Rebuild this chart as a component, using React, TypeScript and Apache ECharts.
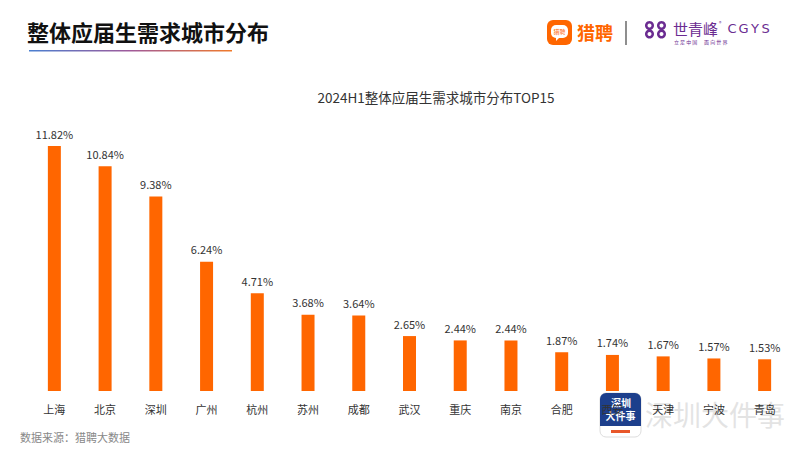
import React, { useEffect, useRef } from "react";
import * as echarts from "echarts";

const cities = ["上海", "北京", "深圳", "广州", "杭州", "苏州", "成都", "武汉", "重庆", "南京", "合肥", "西安", "天津", "宁波", "青岛"];
const shares = [11.82, 10.84, 9.38, 6.24, 4.71, 3.68, 3.64, 2.65, 2.44, 2.44, 1.87, 1.74, 1.67, 1.57, 1.53];

const pageTitle = "整体应届生需求城市分布";
const chartTitle = "2024H1整体应届生需求城市分布TOP15";
const sourceText = "数据来源：猎聘大数据";

const FONT = "'Noto Sans CJK SC', 'Noto Sans', sans-serif";

export default function App() {
  const ref = useRef<HTMLDivElement>(null);
  useEffect(() => {
    document.body.style.margin = "0";
    if (!ref.current) return;
    const chart = echarts.init(ref.current, undefined, { renderer: "svg" });
    const orange = "#FF6600";
    const purple = "#6B2C91";
    const cgys = ["C", "G", "Y", "S"];
    const cgysX = [732, 743.5, 755, 765.5];
    chart.setOption({
      animation: false,
      backgroundColor: "#ffffff",
      textStyle: { fontFamily: FONT },
      title: {
        text: chartTitle,
        left: 431,
        textAlign: "center",
        top: 85,
        textStyle: { fontSize: 13.5, fontWeight: "normal", color: "#333", fontFamily: FONT },
      },
      grid: { left: 29, right: 10, top: 146, bottom: 59, containLabel: false },
      xAxis: {
        type: "category",
        data: cities,
        axisLine: { show: false },
        axisTick: { show: false },
        axisLabel: { color: "#333", fontSize: 11, margin: 12, fontFamily: FONT },
      },
      yAxis: {
        type: "value",
        min: 0,
        max: 11.82,
        show: false,
        splitLine: { show: false },
      },
      series: [
        {
          type: "bar",
          data: shares,
          barWidth: 13,
          itemStyle: { color: orange },
          label: {
            show: true,
            position: "top",
            distance: 7,
            color: "#333",
            fontSize: 11,
            fontFamily: FONT,
            formatter: (p: any) => p.value.toFixed(2) + "%",
          },
        },
      ],
      graphic: [
        {
          type: "text",
          x: 27,
          y: 31,
          style: { text: pageTitle, fill: "#111", font: `bold 22px ${FONT}`, verticalAlign: "middle" },
        },
        {
          type: "rect",
          shape: { x: 29, y: 50, width: 203, height: 1.5 },
          style: {
            fill: new echarts.graphic.LinearGradient(0, 0, 1, 0, [
              { offset: 0, color: "#4A7FD0" },
              { offset: 0.5, color: "#A05A9A" },
              { offset: 1, color: "#F07A2A" },
            ]),
          },
        },
        // 猎聘 logo
        {
          type: "rect",
          shape: { x: 547, y: 20, width: 25, height: 25, r: 6 },
          style: { fill: orange },
        },
        {
          type: "rect",
          shape: { x: 551, y: 25, width: 17, height: 13, r: 5 },
          style: { fill: "#fff" },
        },
        {
          type: "polygon",
          shape: { points: [[556, 37], [560, 37], [556, 41]] },
          style: { fill: "#fff" },
        },
        {
          type: "text",
          x: 559.5,
          y: 31.5,
          style: { text: "猎聘", fill: orange, font: `6px ${FONT}`, align: "center", verticalAlign: "middle" },
        },
        {
          type: "text",
          x: 577,
          y: 32,
          style: { text: "猎聘", fill: orange, font: `bold 18px ${FONT}`, verticalAlign: "middle" },
        },
        {
          type: "line",
          shape: { x1: 626, y1: 21, x2: 626, y2: 45 },
          style: { stroke: "#444", lineWidth: 1.2 },
        },
        // 世青峰 logo
        ...[
          [649.5, 25.5], [661.5, 25.5], [649.5, 34], [661.5, 34],
        ].map(([cx, cy]) => ({
          type: "ring",
          shape: { cx, cy, r: 4.5, r0: 2 },
          style: { fill: purple },
        })),
        {
          type: "text",
          x: 673,
          y: 28,
          style: { text: "世青峰", fill: purple, font: `15px ${FONT}`, verticalAlign: "middle" },
        },
        {
          type: "text",
          x: 719,
          y: 22,
          style: { text: "®", fill: purple, font: `5px ${FONT}`, verticalAlign: "middle" },
        },
        ...cgys.map((c, i) => ({
          type: "text",
          x: cgysX[i],
          y: 28,
          style: { text: c, fill: purple, font: `13px 'DejaVu Sans', sans-serif`, align: "center", verticalAlign: "middle" },
        })),
        {
          type: "text",
          x: 674,
          y: 41,
          style: { text: "立 足 中 国      面 向 世 界", fill: purple, font: `5px ${FONT}`, verticalAlign: "middle" },
        },
        // source
        {
          type: "text",
          x: 20,
          y: 437,
          style: { text: sourceText, fill: "#888", font: `11px ${FONT}`, verticalAlign: "middle" },
        },
        // watermark
        {
          type: "text",
          x: 645,
          y: 414,
          style: { text: "深圳大件事", fill: "rgba(200,200,200,0.5)", font: `28px ${FONT}`, verticalAlign: "middle" },
        },
        {
          type: "rect",
          shape: { x: 600, y: 393, width: 41, height: 44, r: 6 },
          style: { fill: "#fff", stroke: "#ddd", lineWidth: 1 },
        },
        {
          type: "rect",
          shape: { x: 600, y: 393, width: 41, height: 33, r: [6, 6, 0, 0] },
          style: { fill: "#1D3F8C" },
        },
        {
          type: "text",
          x: 621,
          y: 402,
          style: { text: "深圳", fill: "#fff", font: `bold 10px ${FONT}`, align: "center", verticalAlign: "middle" },
        },
        {
          type: "text",
          x: 620.5,
          y: 415,
          style: { text: "大件事", fill: "#fff", font: `bold 10px ${FONT}`, align: "center", verticalAlign: "middle" },
        },
        {
          type: "rect",
          shape: { x: 611, y: 430, width: 19, height: 3 },
          style: { fill: "#E8572A" },
        },
      ],
    });
    return () => chart.dispose();
  }, []);
  return <div ref={ref} style={{ width: 800, height: 450 }} />;
}
